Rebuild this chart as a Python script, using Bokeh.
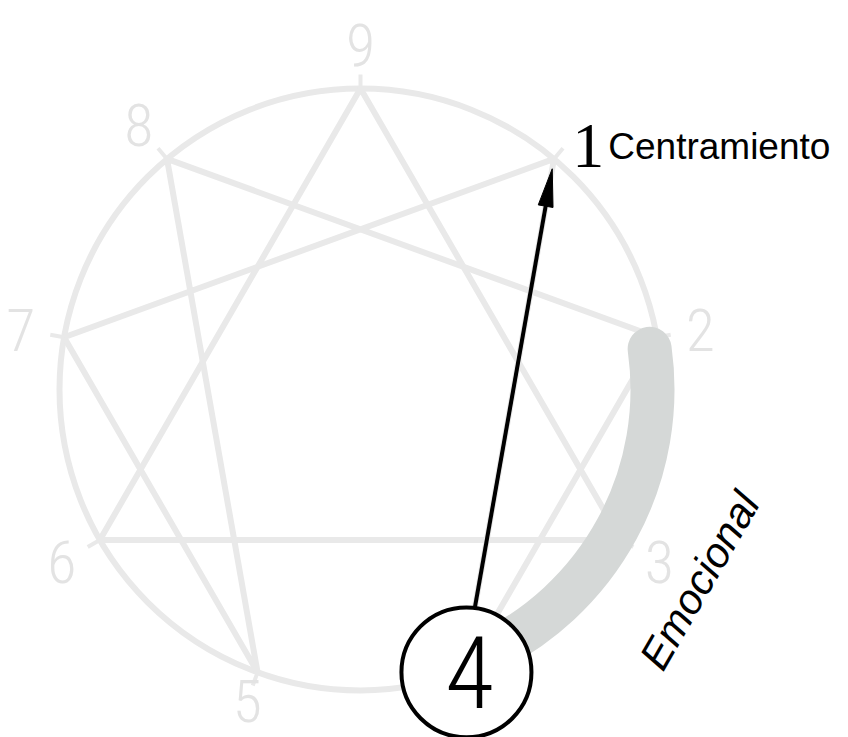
import numpy as np
from bokeh.plotting import figure
from bokeh.models import Range1d
from bokeh.core.properties import value
from bokeh.embed import file_html
from bokeh.resources import INLINE

# ---- data ----
types = [9, 1, 2, 3, 4, 5, 6, 7, 8]
angles_deg = [90, 50, 10, -30, -70, -110, -150, 170, 130]
triangle = [9, 3, 6, 9]
hexad = [1, 4, 2, 8, 5, 7, 1]
highlight_type = 4
target_type = 1
target_label = "Centramiento"
band_label = "Emocional"
band_types = [2, 4]

# ---- layout ----
W, H = 848, 737
CX, CY = 360, 389          # centre in page pixels
R = 301                     # enneagram circle radius
R_LABEL = 345
R_LABEL_BOTTOM = 331        # bottom label kept inside the page
R_NODE = 65
R_BAND = 292
GRAY_LINE = "#e9e9e9"
GRAY_TEXT = "#e3e3e3"
THIN = value("Roboto Condensed Light, Liberation Sans Narrow, sans-serif")

ang = {t: np.deg2rad(a) for t, a in zip(types, angles_deg)}
pt = {t: (R * np.cos(ang[t]), R * np.sin(ang[t])) for t in types}

p = figure(width=W, height=H, output_backend="svg", toolbar_location=None,
           x_axis_location=None, y_axis_location=None, min_border=0,
           x_range=Range1d(-CX, W - CX),
           y_range=Range1d(CY - H, CY))
p.grid.visible = False
p.outline_line_color = None
p.background_fill_color = "white"

# circle
p.circle(x=[0], y=[0], radius=R, fill_color=None, line_color=GRAY_LINE, line_width=6)

# inner figures
for seq in (triangle, hexad):
    p.line(x=[pt[t][0] for t in seq], y=[pt[t][1] for t in seq],
           line_color=GRAY_LINE, line_width=6, line_join="round")

# small radial ticks
for t in types:
    a = ang[t]
    p.line(x=[R * np.cos(a), (R + 14) * np.cos(a)], y=[R * np.sin(a), (R + 14) * np.sin(a)],
           line_color=GRAY_LINE, line_width=4)

# gray number labels
lab_t = [t for t in types if t not in (highlight_type, target_type)]
lab_r = [R_LABEL_BOTTOM if np.sin(ang[t]) < -0.9 else R_LABEL for t in lab_t]
p.text(x=[r * np.cos(ang[t]) for t, r in zip(lab_t, lab_r)],
       y=[r * np.sin(ang[t]) for t, r in zip(lab_t, lab_r)],
       text=[str(t) for t in lab_t], text_font=THIN, text_font_size="60px",
       text_color=GRAY_TEXT, text_align="center", text_baseline="middle")

# emotional band
p.arc(x=[0], y=[0], radius=R_BAND,
      start_angle=np.deg2rad(angles_deg[types.index(band_types[1])] + 5),
      end_angle=np.deg2rad(angles_deg[types.index(band_types[0])] - 2),
      line_color="#d5d8d7", line_width=44, line_cap="round")

# arrow from node 4 to point 1
nx, ny = pt[highlight_type]
tx, ty = pt[target_type]
d = np.array([tx - nx, ty - ny]); L = np.hypot(*d); u = d / L; nrm = np.array([-u[1], u[0]])
start = np.array([nx, ny]) + u * R_NODE
tip = np.array([tx, ty]) - u * 10
base = tip - u * 38
p.line(x=[start[0], base[0] + u[0] * 4], y=[start[1], base[1] + u[1] * 4], line_color="black", line_width=4)
p.patch(x=[tip[0], base[0] + nrm[0] * 7.5, base[0] - nrm[0] * 7.5],
        y=[tip[1], base[1] + nrm[1] * 7.5, base[1] - nrm[1] * 7.5],
        fill_color="black", line_color="black", line_width=1)

# node 4
p.circle(x=[nx + 3], y=[ny], radius=R_NODE, fill_color="white", line_color="black", line_width=4)
p.text(x=[nx + 6], y=[ny], text=[str(highlight_type)], text_font=THIN, text_font_size="100px",
       text_color="black", text_align="center", text_baseline="middle")

# target label
lx, ly = R_LABEL * np.cos(ang[target_type]), R_LABEL * np.sin(ang[target_type])
p.text(x=[lx + 6], y=[ly - 21], text=[str(target_type)], text_font=value("Liberation Serif"),
       text_font_size="64px", text_color="black", text_align="center", text_baseline="alphabetic")
p.text(x=[lx + 26], y=[ly - 21], text=[target_label], text_font=value("Liberation Sans"),
       text_font_size="37px", text_color="black", text_align="left", text_baseline="alphabetic")

# band label
p.text(x=[699 - CX], y=[CY - 580], text=[band_label], angle=60, angle_units="deg",
       text_font=value("Liberation Sans"), text_font_style="italic", text_font_size="42px",
       text_color="black", text_align="center", text_baseline="middle")

open("out.html", "w").write(file_html(p, INLINE))
